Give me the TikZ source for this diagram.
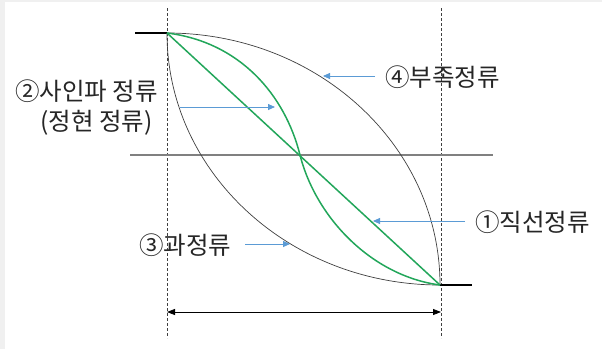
\documentclass[tikz,border=0pt]{standalone}
\usepackage{fontspec}
\newfontfamily\krfont{Noto Sans CJK KR}
\usetikzlibrary{arrows.meta}
\definecolor{curvegreen}{HTML}{22A65A}
\definecolor{ptrblue}{HTML}{5B9BD5}
\definecolor{framegray}{HTML}{F0F0F0}
\begin{document}
\begin{tikzpicture}[x=1pt,y=-1pt,
  lbl/.style={font=\krfont\fontsize{24.5}{28}\selectfont, inner sep=0pt, text=black!85},
  guide/.style={densely dashed, line width=0.7pt, black!75},
  curve/.style={line width=0.7pt, black!75},
  sinecurve/.style={line width=1.5pt, curvegreen},
  pointer/.style={line width=0.8pt, ptrblue, -{Triangle[width=6pt,length=7pt]}},
  stub/.style={line width=2.2pt, black},
  dim/.style={line width=0.8pt, black, {Triangle[width=6pt,length=8pt]}-{Triangle[width=6pt,length=8pt]}}]
\fill[framegray] (0,0) rectangle (602,349);
\fill[white] (5,2) rectangle (602,349);
\useasboundingbox (0,0) rectangle (602,349);
% key points
\coordinate (S) at (167,33);
\coordinate (E) at (440,285);
\coordinate (C) at (300,155);
% guides
\coordinate (gl1) at (167,8);
\coordinate (gl2) at (167,338);
\coordinate (gr1) at (441,8);
\coordinate (gr2) at (441,338);
\draw[guide] (gl1) -- (gl2);
\draw[guide] (gr1) -- (gr2);
\coordinate (h1) at (130,155);
\coordinate (h2) at (493,155);
\draw[line width=1.3pt, black!50] (h1) -- (h2);
% stubs
\coordinate (sl) at (135,33);
\coordinate (sr) at (472,285);
\draw[stub] (sl) -- (S);
\draw[stub] (E) -- (sr);
% arcs
\draw[curve] (S) arc[start angle=-90, end angle=0, x radius=273, y radius=252];
\draw[curve] (S) arc[start angle=180, end angle=90, x radius=273, y radius=252];
% straight and sine
\draw[sinecurve] (S) -- (E);
\draw[sinecurve] (S) .. controls (240,42) and (285,95) .. (C)
                     .. controls (316,218) and (372,276) .. (E);
% dimension arrow
\coordinate (d1) at (167,312);
\coordinate (d2) at (441,312);
\draw[dim] (d1) -- (d2);
% labels
\node[lbl, anchor=west] (l2a) at (15,91) {②사인파 정류};
\node[lbl, anchor=west] (l2b) at (40,123) {(정현 정류)};
\node[lbl, anchor=west] (l4) at (385,77) {④부족정류};
\node[lbl, anchor=west] (l3) at (139,245) {③과정류};
\node[lbl, anchor=west] (l1) at (475,222) {①직선정류};
% pointers
\coordinate (p2a) at (180,107);
\coordinate (p2b) at (275,107);
\draw[pointer] (p2a) -- (p2b);
\coordinate (p4a) at (375,76);
\coordinate (p4b) at (323,76);
\draw[pointer] (p4a) -- (p4b);
\coordinate (p3a) at (245,244);
\coordinate (p3b) at (290,244);
\draw[pointer] (p3a) -- (p3b);
\coordinate (p1a) at (465,221);
\coordinate (p1b) at (373,221);
\draw[pointer] (p1a) -- (p1b);
\end{tikzpicture}
\end{document}
